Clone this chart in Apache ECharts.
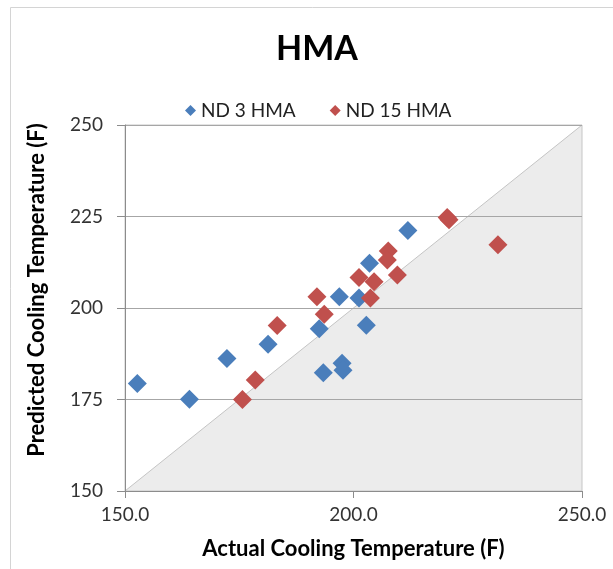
<!DOCTYPE html>
<html>
<head>
<meta charset="utf-8">
<script src="https://cdn.jsdelivr.net/npm/echarts@6/dist/echarts.min.js"></script>
<style>html,body{margin:0;padding:0;background:#fff}#c{width:613px;height:569px}</style>
</head>
<body>
<div id="c"></div>
<script>
// Data
var seriesNames = ['ND 3 HMA', 'ND 15 HMA'];
var nd3Actual = [152.7, 164.1, 172.3, 181.3, 192.5, 196.9, 193.4, 197.5, 197.7, 211.9, 203.5, 201.2, 202.8];
var nd3Pred   = [179.4, 175.1, 186.2, 190.1, 194.3, 203.1, 182.3, 184.9, 183.0, 221.2, 212.2, 202.7, 195.3];
var nd15Actual = [183.3, 178.5, 175.7, 192.0, 193.6, 220.5, 220.9, 231.6, 207.6, 207.4, 209.6, 201.2, 204.5, 203.7];
var nd15Pred   = [195.2, 180.3, 175.0, 203.1, 198.3, 224.7, 224.1, 217.3, 215.6, 213.1, 209.0, 208.3, 207.2, 202.7];
var equalityLine = [[150, 150], [250, 250]];
var xTicks = [150, 200, 250];
var yTicks = [150, 175, 200, 225, 250];

function pairs(a, b) { return a.map(function (v, i) { return [v, b[i]]; }); }

var FONT = 'Lato, "Open Sans", sans-serif';
var chart = echarts.init(document.getElementById('c'));
chart.setOption({
  animation: false,
  backgroundColor: '#ffffff',
  textStyle: { fontFamily: FONT },
  graphic: [
    { type: 'rect', shape: { x: 10.5, y: 7.5, width: 640, height: 600 },
      style: { fill: 'none', stroke: '#d4d4d4', lineWidth: 1 }, silent: true, z: -10 },
    { type: 'text', x: 26, y: 290, rotation: Math.PI / 2,
      style: { text: 'Predicted Cooling Temperature (F)', font: 'bold 22px ' + FONT, fill: '#000',
               align: 'center', verticalAlign: 'top' } }
  ],
  title: {
    text: 'HMA', left: 312, top: 27, textAlign: 'center',
    textStyle: { fontSize: 34, fontWeight: 'bold', color: '#000', fontFamily: FONT }
  },
  legend: {
    data: seriesNames.map(function (n) { return { name: n, icon: 'diamond' }; }),
    left: 180, top: 96, itemWidth: 11, itemHeight: 11, itemGap: 34,
    textStyle: { fontSize: 19, color: '#222', fontFamily: FONT }
  },
  grid: { left: 125, right: 31, top: 125, bottom: 78, show: true, borderColor: '#c6c6c6', borderWidth: 1 },
  xAxis: {
    type: 'value', min: 150, max: 250, interval: 50,
    name: 'Actual Cooling Temperature (F)', nameLocation: 'middle', nameGap: 47,
    nameTextStyle: { fontSize: 22, fontWeight: 'bold', color: '#000', fontFamily: FONT },
    axisLine: { show: true, lineStyle: { color: '#8c8c8c' } },
    axisTick: { show: true, inside: false, length: 7, lineStyle: { color: '#8c8c8c' } },
    axisLabel: { fontSize: 19, color: '#333', margin: 14, formatter: function (v) { return v.toFixed(1); } },
    splitLine: { show: false }
  },
  yAxis: {
    type: 'value', min: 150, max: 250, interval: 25,
    axisLine: { show: true, lineStyle: { color: '#8c8c8c' } },
    axisTick: { show: true, inside: false, length: 8, lineStyle: { color: '#8c8c8c' } },
    axisLabel: { fontSize: 19, color: '#333', margin: 22 },
    splitLine: { show: true, lineStyle: { color: '#a6a6a6', width: 1 } }
  },
  series: [
    {
      type: 'line', data: equalityLine, symbol: 'none', silent: true, z: -1,
      lineStyle: { color: '#c4c4c4', width: 1 },
      areaStyle: { color: '#ececec', origin: 'start', opacity: 1 }
    },
    {
      name: seriesNames[0], type: 'scatter', symbol: 'diamond', symbolSize: 19,
      itemStyle: { color: '#4a7ebb', opacity: 1 }, data: pairs(nd3Actual, nd3Pred), z: 3
    },
    {
      name: seriesNames[1], type: 'scatter', symbol: 'diamond', symbolSize: 19,
      itemStyle: { color: '#c0504d', opacity: 1 }, data: pairs(nd15Actual, nd15Pred), z: 4
    }
  ]
});
</script>
</body>
</html>
